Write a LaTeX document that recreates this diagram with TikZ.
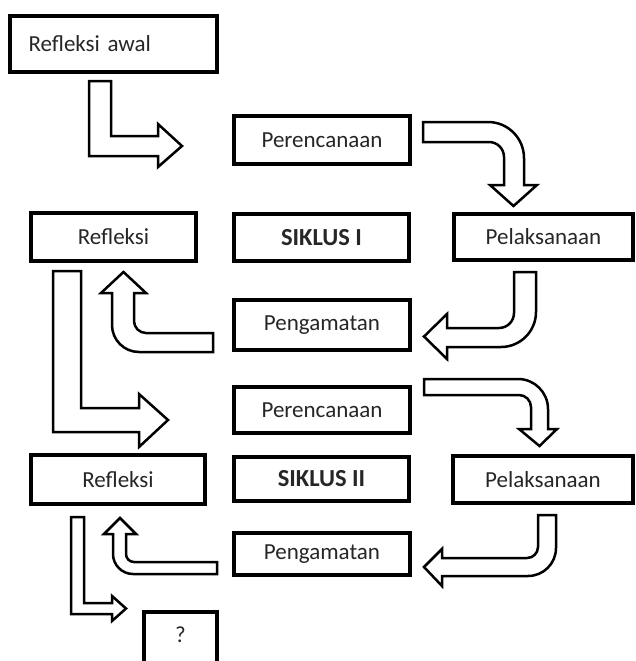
\documentclass[tikz,border=0pt]{standalone}
\usepackage{fontspec}
\setmainfont{Carlito}
\newcommand\boxfont{\fontsize{23}{27}\selectfont}
\newcommand\boldboxfont{\fontsize{24.5}{28}\selectfont\bfseries}
\tikzset{
  box/.style={draw, line width=4pt, inner sep=0pt, font=\boxfont, text=black!85},
  barrow/.style={draw, fill=white, line width=2.5pt, line join=miter, miter limit=10}
}
\begin{document}
\begin{tikzpicture}[x=1pt, y=-1pt]
\useasboundingbox (0,0) rectangle (636,661);
% boxes
\node[box, minimum height=56pt, text width=170pt, inner xsep=18.5pt, align=left] (awal) at (113.5,44) {Refleksi awal};
\node[box, minimum width=176pt, minimum height=48pt] (perI) at (322,140) {Perencanaan};
\node[box, minimum width=179pt, minimum height=46pt] (pelI) at (543.5,237) {Pelaksanaan};
\node[box, minimum width=175pt, minimum height=47pt, font=\boldboxfont] (sikI) at (321.5,237.5) {SIKLUS I};
\node[box, minimum width=165pt, minimum height=48pt] (refI) at (113.5,237) {Refleksi};
\node[box, minimum width=176pt, minimum height=50pt] (pengI) at (322,325) {Pengamatan};
\node[box, minimum width=176pt, minimum height=46pt] (perII) at (322,410) {Perencanaan};
\node[box, minimum width=175pt, minimum height=44pt, font=\boldboxfont] (sikII) at (321.5,479) {SIKLUS II};
\node[box, minimum width=180pt, minimum height=47pt] (pelII) at (543,479.5) {Pelaksanaan};
\node[box, minimum width=174pt, minimum height=49pt] (refII) at (118,479.5) {Refleksi};
\node[box, minimum width=176pt, minimum height=42pt] (pengII) at (322,554) {Pengamatan};
\node[box, anchor=north, minimum width=73pt, inner ysep=15pt, text depth=60pt] (q) at (180.5,610) {?};
% block arrows
% awal -> perI
\draw[barrow] (89,81) -- (111,81) -- (111,136) -- (158,136) -- (158,124) -- (182,146) -- (158,167) -- (158,156) -- (89,156) -- cycle;
% perI -> pelI
\draw[barrow] (423,122) -- (488,122) .. controls (507.9,122) and (524,138.1) .. (524,158) -- (524,185) -- (537,185) -- (513.5,206) -- (490,185) -- (504,185) -- (504,157) .. controls (504,148.7) and (497.3,142) .. (489,142) -- (423,142) -- cycle;
% pelI -> pengI
\draw[barrow] (514,272) -- (536,272) -- (536,312) .. controls (536,331.3) and (520.3,347) .. (501,347) -- (447,347) -- (447,359) -- (424,336.5) -- (447,314) -- (447,328) -- (499,328) .. controls (507.3,328) and (514,321.3) .. (514,313) -- cycle;
% pengI -> refI
\draw[barrow] (213,333) -- (213,352) -- (139,352) .. controls (124.1,352) and (112,339.9) .. (112,325) -- (112,293) -- (101,293) -- (123.5,272) -- (146,293) -- (134,293) -- (134,321) .. controls (134,327.6) and (139.4,333) .. (146,333) -- cycle;
% refI -> perII
\draw[barrow] (53,271) -- (81,271) -- (81,408) -- (139,408) -- (139,394) -- (168,420) -- (139,447) -- (139,432) -- (53,432) -- cycle;
% perII -> pelII
\draw[barrow] (424,379) -- (518,379) .. controls (534.6,379) and (548,392.4) .. (548,409) -- (548,429) -- (557,429) -- (539.5,446) -- (519,429) -- (531,429) -- (531,407) .. controls (531,400.4) and (525.6,395) .. (519,395) -- (424,395) -- cycle;
% pelII -> pengII
\draw[barrow] (538,515) -- (556,515) -- (556,548) .. controls (556,563.5) and (543.5,576) .. (528,576) -- (442,576) -- (442,586) -- (424,567) -- (442,549) -- (442,558) -- (527,558) .. controls (533.1,558) and (538,553.1) .. (538,547) -- cycle;
% pengII -> refII
\draw[barrow] (217,562) -- (217,574) -- (133,574) .. controls (122,574) and (113,565) .. (113,554) -- (113,534) -- (104,534) -- (120,518) -- (136,534) -- (126,534) -- (126,554) .. controls (126,558.4) and (129.6,562) .. (134,562) -- cycle;
% refII -> q
\draw[barrow] (71,517) -- (84,517) -- (84,603) -- (112,603) -- (112,596) -- (126,608.5) -- (112,621) -- (112,614) -- (71,614) -- cycle;
\end{tikzpicture}
\end{document}
